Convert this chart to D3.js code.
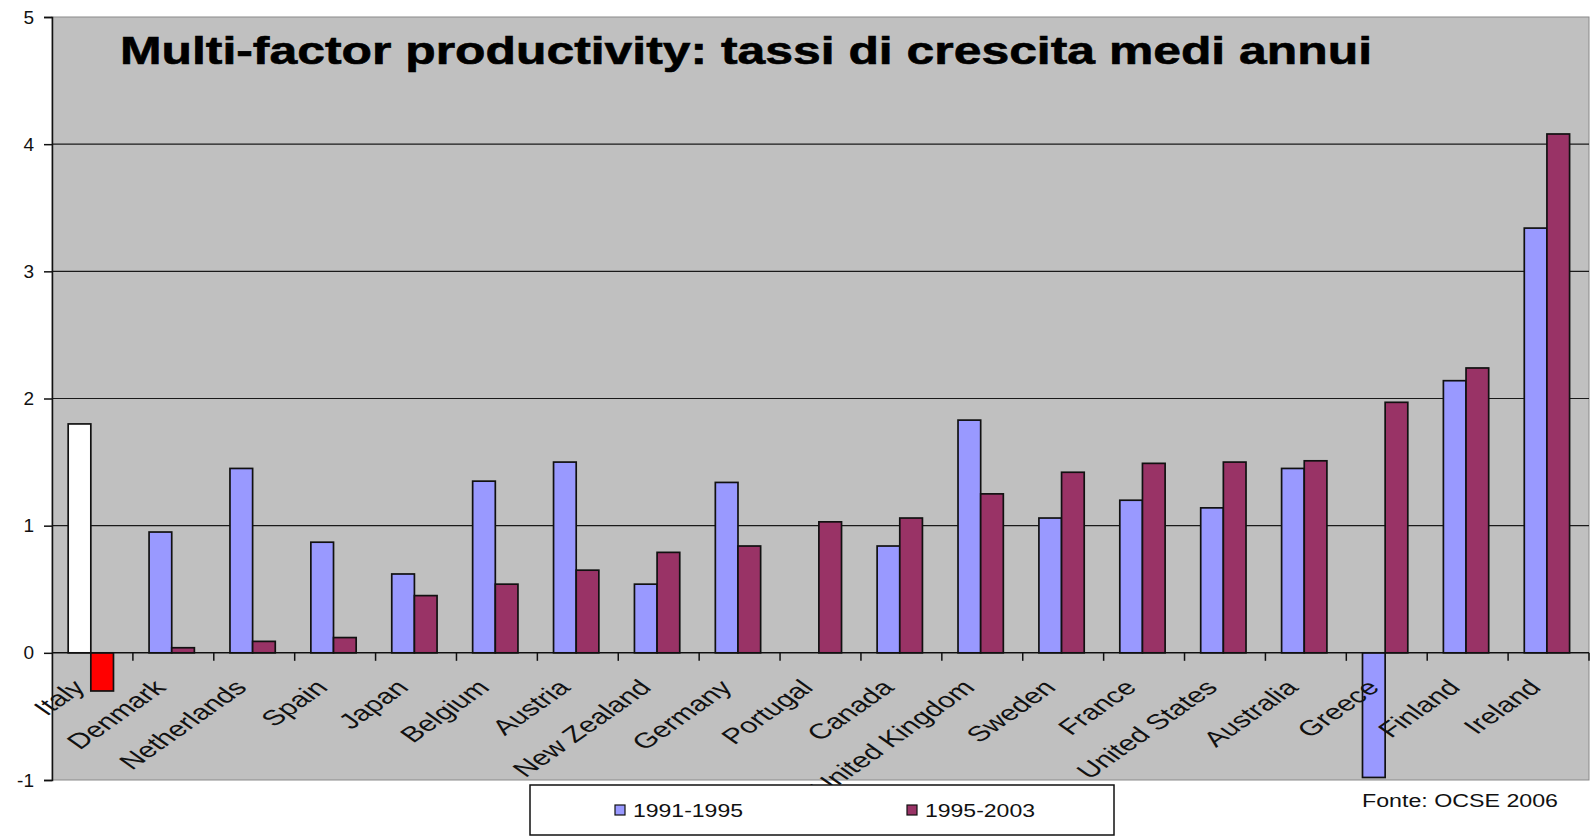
<!DOCTYPE html>
<html>
<head>
<meta charset="utf-8">
<script src="https://cdn.jsdelivr.net/npm/d3@7"></script>
<style>
  html, body { margin: 0; padding: 0; background: #ffffff; }
  svg { display: block; }
  text { font-family: "Liberation Sans", Arial, sans-serif; }
</style>
</head>
<body>
<svg id="chart" width="1596" height="837"></svg>
<script>
// ---- data ----
const categories = ["Italy", "Denmark", "Netherlands", "Spain", "Japan", "Belgium", "Austria",
  "New Zealand", "Germany", "Portugal", "Canada", "United Kingdom", "Sweden", "France",
  "United States", "Australia", "Greece", "Finland", "Ireland"];
const seriesNames = ["1991-1995", "1995-2003"];
const values1991_1995 = [1.80, 0.95, 1.45, 0.87, 0.62, 1.35, 1.50, 0.54, 1.34, null, 0.84, 1.83, 1.06, 1.20, 1.14, 1.45, -0.98, 2.14, 3.34];
const values1995_2003 = [-0.30, 0.04, 0.09, 0.12, 0.45, 0.54, 0.65, 0.79, 0.84, 1.03, 1.06, 1.25, 1.42, 1.49, 1.50, 1.51, 1.97, 2.24, 4.08];
const yTicks = [-1, 0, 1, 2, 3, 4, 5];
const titleText = "Multi-factor productivity: tassi di crescita medi annui";
const sourceText = "Fonte: OCSE 2006";
const highlightCategory = "Italy";

// ---- styles ----
const seriesColors = ["#9999FF", "#993366"];
const highlightColors = ["#FFFFFF", "#FF0000"];

const svg = d3.select("#chart");
const plot = { left: 52, right: 1589, top: 17, bottom: 780 };

const x0 = d3.scaleBand().domain(categories).range([plot.left, plot.right]).padding(0);
const bw = x0.bandwidth();
const x1 = d3.scaleBand().domain([0, 1]).range([bw * 0.2, bw * 0.76]).padding(0);
const y = d3.scaleLinear().domain([-1, 5]).range([plot.bottom, plot.top]);

// plot background
svg.append("rect")
  .attr("x", plot.left).attr("y", plot.top)
  .attr("width", plot.right - plot.left).attr("height", plot.bottom - plot.top)
  .attr("fill", "#C0C0C0").attr("stroke", "#8a8a8a").attr("stroke-width", 1);

// gridlines
svg.append("g").selectAll("line")
  .data(yTicks.filter(d => d > -1 && d < 5 && d !== 0))
  .join("line")
  .attr("x1", plot.left).attr("x2", plot.right)
  .attr("y1", d => y(d)).attr("y2", d => y(d))
  .attr("stroke", "#1a1a1a").attr("stroke-width", 1.2);

// bars
const seriesData = [values1991_1995, values1995_2003];
const barG = svg.append("g");
categories.forEach((cat, i) => {
  seriesData.forEach((vals, s) => {
    const v = vals[i];
    if (v === null || v === undefined) return;
    const bx = x0(cat) + x1(s);
    barG.append("rect")
      .attr("x", bx)
      .attr("y", y(Math.max(0, v)))
      .attr("width", x1.bandwidth())
      .attr("height", Math.abs(y(v) - y(0)))
      .attr("fill", cat === highlightCategory ? highlightColors[s] : seriesColors[s])
      .attr("stroke", "#111").attr("stroke-width", 1.7);
  });
});

// y axis
const yAxis = d3.axisLeft(y).tickValues(yTicks).tickSize(8).tickPadding(10).tickFormat(d => String(d));
const yg = svg.append("g").attr("transform", `translate(${plot.left},0)`).call(yAxis);
yg.select(".domain").attr("stroke", "#111").attr("stroke-width", 1.5);
yg.selectAll(".tick line").attr("stroke", "#111").attr("stroke-width", 1.5);
yg.selectAll(".tick text").attr("font-size", 19).attr("fill", "#111")
  .attr("font-family", "'Liberation Sans', Arial, sans-serif");

// x axis at zero (category boundary ticks)
const xg = svg.append("g");
xg.append("line")
  .attr("x1", plot.left).attr("x2", plot.right)
  .attr("y1", y(0)).attr("y2", y(0))
  .attr("stroke", "#111").attr("stroke-width", 1.5);
xg.selectAll("line.tk")
  .data(categories)
  .join("line").attr("class", "tk")
  .attr("x1", d => x0(d) + bw).attr("x2", d => x0(d) + bw)
  .attr("y1", y(0)).attr("y2", y(0) + 8)
  .attr("stroke", "#111").attr("stroke-width", 1.5);

// category labels (rotated, horizontally stretched like the original)
const kStretch = 1.42;
xg.selectAll("text.cat")
  .data(categories)
  .join("text").attr("class", "cat")
  .attr("transform", d => `translate(${x0(d) + bw / 2 - 6},${y(0) + 36}) scale(${kStretch},1) rotate(-45)`)
  .attr("text-anchor", "end")
  .attr("font-size", 21.5)
  .attr("fill", "#111")
  .text(d => d);

// title
svg.append("text")
  .attr("x", 120).attr("y", 64)
  .attr("font-size", 39).attr("font-weight", "bold")
  .attr("textLength", 1252).attr("lengthAdjust", "spacingAndGlyphs")
  .attr("fill", "#000")
  .attr("stroke", "#000").attr("stroke-width", 0.6)
  .text(titleText);

// legend
const lg = svg.append("g");
lg.append("rect")
  .attr("x", 530).attr("y", 785).attr("width", 584).attr("height", 50)
  .attr("fill", "#fff").attr("stroke", "#111").attr("stroke-width", 1.5);
const legendX = [615, 907];
seriesNames.forEach((name, s) => {
  lg.append("rect")
    .attr("x", legendX[s]).attr("y", 805).attr("width", 10).attr("height", 10)
    .attr("fill", seriesColors[s]).attr("stroke", "#111").attr("stroke-width", 1.2);
  lg.append("text")
    .attr("x", legendX[s] + 18).attr("y", 817)
    .attr("font-size", 19).attr("fill", "#111")
    .attr("textLength", 110).attr("lengthAdjust", "spacingAndGlyphs")
    .text(name);
});

// source
svg.append("text")
  .attr("x", 1362).attr("y", 807)
  .attr("font-size", 18).attr("fill", "#111")
  .attr("textLength", 196).attr("lengthAdjust", "spacingAndGlyphs")
  .text(sourceText);
</script>
</body>
</html>
